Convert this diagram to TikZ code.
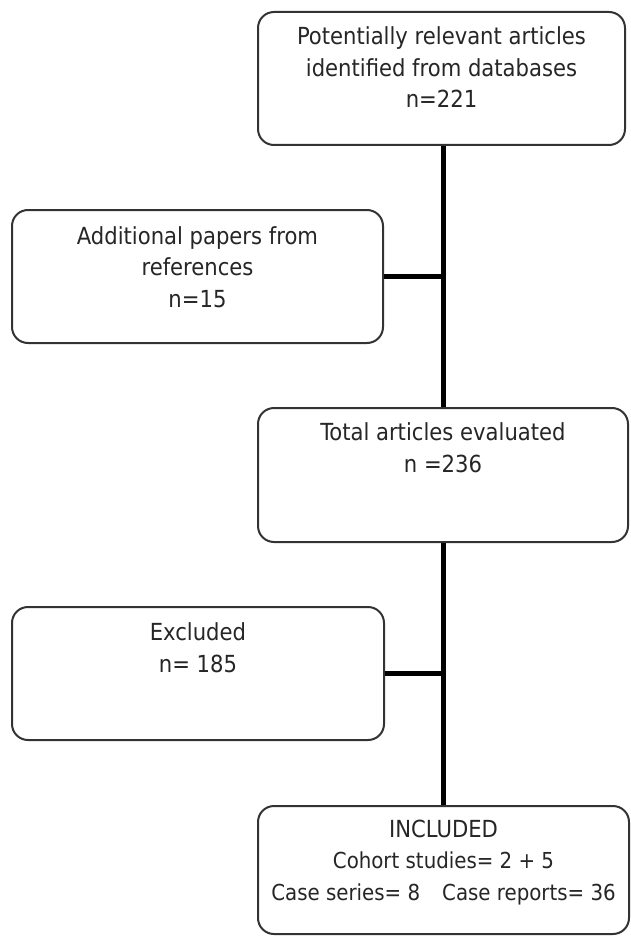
\documentclass[tikz,border=0pt]{standalone}
\usepackage{fontspec}
\setmainfont{DejaVu Sans Condensed}
\begin{document}
\begin{tikzpicture}[x=1pt,y=-1pt,
  box/.style={draw=black!80, line width=2pt, rounded corners=16pt, fill=white, inner sep=0pt},
  txt/.style={font=\fontsize{23.5}{31.5}\selectfont, text=black!85, align=center, anchor=base, inner sep=0pt},
  txtsmall/.style={txt, font=\fontsize{22}{31.5}\selectfont},
  conn/.style={draw=black, line width=5pt}]
\useasboundingbox (0,0) rectangle (630,936);
\node[box, minimum width=367pt, minimum height=133pt] (b1) at (441.5,78.5) {};
\node[box, minimum width=371pt, minimum height=133pt] (b2) at (197.5,276.5) {};
\node[box, minimum width=370pt, minimum height=134pt] (b3) at (443,475) {};
\node[box, minimum width=372pt, minimum height=133pt] (b4) at (198,673.5) {};
\node[box, minimum width=371pt, minimum height=128pt] (b5) at (443.5,870) {};
\draw[conn] (b1.south -| b5.north) -- (b3.north -| b5.north);
\draw[conn] (b3.south -| b5.north) -- (b5.north);
\draw[conn] (b2.east) -- (b2.east -| b5.north);
\draw[conn] (b4.east) -- (b4.east -| b5.north);
\node[txt] (t1) at (441.5,108) {Potentially relevant articles\\identified from databases\\n=221};
\node[txt] (t2) at (197.5,307) {Additional papers from\\references\\n=15};
\node[txt] (t3) at (443,472) {Total articles evaluated\\n =236};
\node[txt] (t4) at (198,672) {Excluded\\n= 185};
\node[txtsmall] (t5) at (443.5,900) {{\fontsize{23.5}{31.5}\selectfont INCLUDED}\\Cohort studies= 2 + 5\\Case series= 8\quad Case reports= 36};
\end{tikzpicture}
\end{document}
